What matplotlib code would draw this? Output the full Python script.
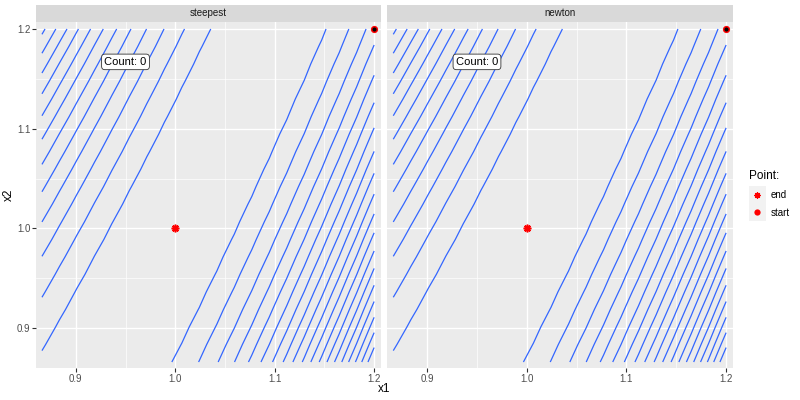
import numpy as np
import matplotlib
matplotlib.use("Agg")
import matplotlib.pyplot as plt

plt.rcParams['font.family'] = ['Liberation Sans', 'DejaVu Sans']

# ---- data ----
methods = ["steepest", "newton"]
count_labels = ["Count: 0", "Count: 0"]
x1_grid_limits = [0.866, 1.2]
x2_grid_limits = [0.866, 1.2]
grid_points = 20
contour_levels = [1.65, 3.3, 4.95, 6.6, 8.25, 9.9, 11.55, 13.2, 14.85, 16.5,
                  18.15, 19.8, 21.45, 23.1, 24.75, 26.4, 28.05, 29.7, 31.35, 33.0]
start_x1 = [1.2]
start_x2 = [1.2]
end_x1 = [1.0]
end_x2 = [1.0]
label_x1 = 0.95
label_x2 = 1.167
x_ticks = [0.9, 1.0, 1.1, 1.2]
x_ticklabels = ["0.9", "1.0", "1.1", "1.2"]
y_ticks = [0.9, 1.0, 1.1, 1.2]
y_ticklabels = ["0.9", "1.0", "1.1", "1.2"]
minor_ticks = [0.95, 1.05, 1.15]
legend_labels = ["end", "start"]


def rosenbrock(a, b):
    return 100 * (b - a ** 2) ** 2 + (1 - a) ** 2


g1 = np.linspace(x1_grid_limits[0], x1_grid_limits[1], grid_points)
g2 = np.linspace(x2_grid_limits[0], x2_grid_limits[1], grid_points)
X1, X2 = np.meshgrid(g1, g2)
Z = rosenbrock(X1, X2)

W, H = 800, 400
fig = plt.figure(figsize=(8, 4), dpi=100)

panels = [(36, 380.7), (387.3, 732.7)]
ptop, pbot = 22, 368
stop = 5
xlim = (0.860, 1.2066)
ylim = (0.860, 1.207)

for i, (m, (xl, xr)) in enumerate(zip(methods, panels)):
    ax = fig.add_axes([xl / W, 1 - pbot / H, (xr - xl) / W, (pbot - ptop) / H])
    ax.set_facecolor('#EBEBEB')
    for s in ax.spines.values():
        s.set_visible(False)
    ax.set_xlim(*xlim)
    ax.set_ylim(*ylim)
    for t in minor_ticks:
        ax.axvline(t, color='white', lw=0.5, zorder=0.5)
        ax.axhline(t, color='white', lw=0.5, zorder=0.5)
    for t in x_ticks:
        ax.axvline(t, color='white', lw=1.0, zorder=0.6)
    for t in y_ticks:
        ax.axhline(t, color='white', lw=1.0, zorder=0.6)
    ax.contour(X1, X2, Z, levels=contour_levels, colors='#3366FF', linewidths=0.9, zorder=2)
    ax.set_xticks(x_ticks)
    ax.set_xticklabels(x_ticklabels)
    ax.set_yticks(y_ticks)
    if i == 0:
        ax.set_yticklabels(y_ticklabels)
        ax.tick_params(axis='y', length=2.6, width=0.8, color='#333333',
                       labelsize=7, labelcolor='#4D4D4D', pad=1.5)
    else:
        ax.tick_params(axis='y', left=False, labelleft=False)
    ax.tick_params(axis='x', length=2.6, width=0.8, color='#333333',
                   labelsize=7, labelcolor='#4D4D4D', pad=1.5)
    ax.plot(end_x1, end_x2, linestyle='none', marker=(8, 2, 0), markersize=5.5,
            mew=1.2, color='red', zorder=5, clip_on=False)
    ax.plot(start_x1, start_x2, linestyle='none', marker='o', markersize=5.2,
            color='red', mew=0, zorder=5, clip_on=False)
    ax.plot(start_x1, start_x2, linestyle='none', marker='o', markersize=3,
            color='black', mew=0, zorder=6, clip_on=False)
    ax.text(label_x1, label_x2, count_labels[i], ha='center', va='center',
            fontsize=8, color='black', zorder=7,
            bbox=dict(boxstyle='round,pad=0.25,rounding_size=0.3', fc='white',
                      ec='#333333', lw=0.6))
    # strip
    sax = fig.add_axes([xl / W, 1 - ptop / H, (xr - xl) / W, (ptop - stop) / H])
    sax.set_facecolor('#D9D9D9')
    sax.set_xticks([])
    sax.set_yticks([])
    for s in sax.spines.values():
        s.set_visible(False)
    sax.text(0.5, 0.5, m, ha='center', va='center', fontsize=7,
             color='#1A1A1A', transform=sax.transAxes)

# axis titles
fig.text(384.5 / W, 1 - 389 / H, "x1", ha='center', va='center', fontsize=8.5, color='black')
fig.text(9 / W, 1 - 195 / H, "x2", ha='center', va='center', fontsize=8.5,
         color='black', rotation=90)

# legend
fig.text(749 / W, 1 - 176 / H, "Point:", ha='left', va='center', fontsize=8.5, color='black')
lax = fig.add_axes([749 / W, 1 - 221 / H, 16.5 / W, 35 / H])
lax.set_facecolor('#F2F2F2')
lax.set_xlim(0, 1)
lax.set_ylim(0, 2)
lax.set_xticks([])
lax.set_yticks([])
for s in lax.spines.values():
    s.set_visible(False)
lax.plot([0.5], [1.5], linestyle='none', marker=(8, 2, 0), markersize=4.5,
         mew=0.9, color='red')
lax.plot([0.5], [0.5], linestyle='none', marker='o', markersize=4.5, mew=0, color='red')
fig.text(771 / W, 1 - 195 / H, legend_labels[0], ha='left', va='center', fontsize=7, color='black')
fig.text(771 / W, 1 - 212.5 / H, legend_labels[1], ha='left', va='center', fontsize=7, color='black')

fig.savefig("out.png", dpi=100)
